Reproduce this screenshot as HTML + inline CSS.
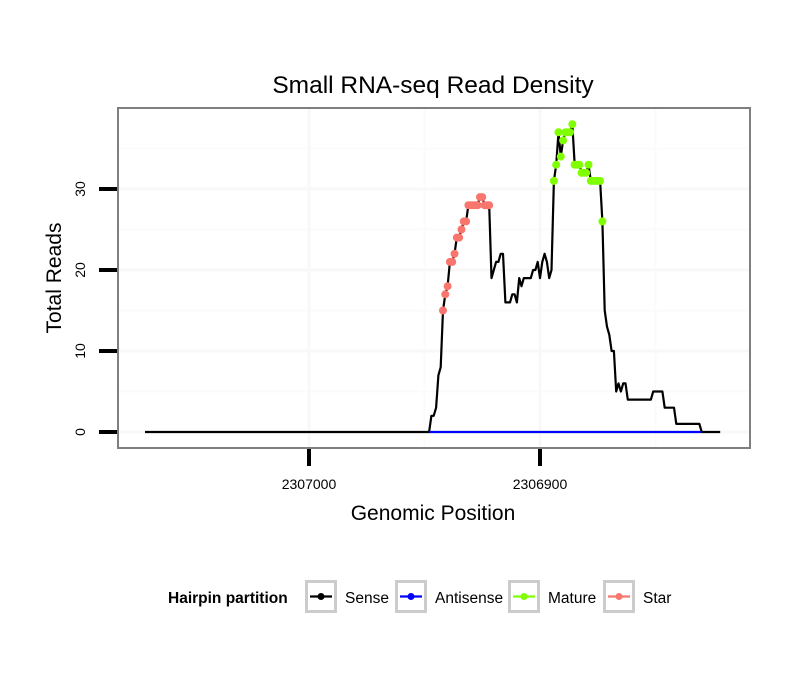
<!DOCTYPE html>
<html><head><meta charset="utf-8"><style>
body{margin:0;background:#fff}
svg{display:block;font-family:"Liberation Sans",Arial,sans-serif}
</style></head><body>
<svg id="chart" width="810" height="690" viewBox="0 0 810 690">
<rect width="810" height="690" fill="#fff"/>
<text x="433" y="93" font-size="24.5" text-anchor="middle">Small RNA-seq Read Density</text>
<g id="grid"></g>
<g id="series"></g>
<rect x="118" y="108" width="632" height="340" fill="none" stroke="#7f7f7f" stroke-width="2"/>
<g id="axes"></g>
<text x="433" y="520" font-size="21" text-anchor="middle">Genomic Position</text>
<text transform="translate(61,278) rotate(-90)" font-size="21" text-anchor="middle">Total Reads</text>
<g>
<text x="168" y="603" font-size="15.5" font-weight="bold">Hairpin partition</text>
<g id="legend-items"></g>
</g>
</svg>
<script>
const firstPos = 2306948;
const senseValues = [0,2,2,3,7,8,15,17,18,21,21,22,24,24,25,26,26,28,28,28,28,28,29,29,28,28,28,19,20,21,21,22,22,16,16,16,17,17,16,19,18,19,19,19,19,20,20,21,19,21,22,21,19,20,31,33,37,34,36,37,37,37,38,33,33,33,32,32,32,33,31,31,31,31,31,26,15,13,12,10,10,5,6,5,6,6,4,4,4,4,4,4,4,4,4,4,4,5,5,5,5,5,3,3,3,3,3,1,1,1,1,1,1,1,1,1,1,1,0];
const leadStartPos = 2307071;
const trailEndPos = 2306822;
const antisenseRange = [2306948, 2306830];
const starRange = [2306942, 2306922];
const matureRange = [2306894, 2306873];
const xTicks = [2307000, 2306900];
const xMinor = [2306950, 2306850];
const yTicks = [0, 10, 20, 30];
const yMinor = [5, 15, 25, 35];
const legendLabels = ["Sense","Antisense","Mature","Star"];
const legendColors = ["#000000","#0000ff","#7fff00","#f8766d"];

const NS = "http://www.w3.org/2000/svg";
const xS = p => 309 + (2307000 - p) * 2.31;
const yS = v => 432 - v * 8.1;
function mk(tag, attrs, parent){const e=document.createElementNS(NS,tag);for(const k in attrs)e.setAttribute(k,attrs[k]);parent.appendChild(e);return e;}
const grid = document.getElementById('grid'), series = document.getElementById('series'), axes = document.getElementById('axes');

yMinor.forEach(v=>{const l=mk('line',{x1:119,x2:749,y1:yS(v),y2:yS(v),stroke:'#fbfbfb','stroke-width':2},grid);

});
xMinor.forEach(p=>{const l=mk('line',{x1:xS(p),x2:xS(p),y1:109,y2:447,stroke:'#fbfbfb','stroke-width':2},grid);

});
yTicks.forEach(v=>{const l=mk('line',{x1:119,x2:749,y1:yS(v),y2:yS(v),stroke:'#f8f8f8','stroke-width':3},grid);


const t=mk('line',{x1:99,x2:117,y1:yS(v),y2:yS(v),stroke:'#000','stroke-width':4},axes);


const tx=mk('text',{transform:`translate(85,${yS(v)}) rotate(-90)`,'font-size':14,'text-anchor':'middle'},axes);tx.textContent=v;

});
xTicks.forEach(p=>{const l=mk('line',{x1:xS(p),x2:xS(p),y1:109,y2:447,stroke:'#f8f8f8','stroke-width':3},grid);


const t=mk('line',{x1:xS(p),x2:xS(p),y1:449,y2:466,stroke:'#000','stroke-width':4},axes);


const tx=mk('text',{x:xS(p),y:489,'font-size':14,'text-anchor':'middle'},axes);tx.textContent=p;

});

const pts=[[leadStartPos,0]];
senseValues.forEach((v,i)=>pts.push([firstPos-i,v]));
pts.push([trailEndPos,0]);
const ln=mk('polyline',{points:pts.map(d=>xS(d[0]).toFixed(1)+','+yS(d[1]).toFixed(1)).join(' '),fill:'none',stroke:'#000','stroke-width':2.2,'stroke-linejoin':'round'},series);


const an=mk('line',{x1:xS(antisenseRange[0]),x2:xS(antisenseRange[1]),y1:yS(0),y2:yS(0),stroke:'#0000ff','stroke-width':2.2},series);


function dots(range,color,name){senseValues.forEach((v,i)=>{const p=firstPos-i;if(p<=range[0]&&p>=range[1]){const c=mk('circle',{cx:xS(p),cy:yS(v),r:4,fill:color},series);

}});}
dots(starRange,'#f8766d','star-point');
dots(matureRange,'#7fff00','mature-point');

const li=document.getElementById('legend-items');
const boxX=[305,395,508,603];
legendLabels.forEach((lab,i)=>{const g=mk('g',{},li);


const x=boxX[i];
mk('rect',{x:x+1.5,y:581.5,width:29,height:30,fill:'#fff',stroke:'#cccccc','stroke-width':3},g);
mk('line',{x1:x+5,x2:x+27,y1:596.5,y2:596.5,stroke:legendColors[i],'stroke-width':2.2},g);
mk('circle',{cx:x+16,cy:596.5,r:3.5,fill:legendColors[i]},g);
const t=mk('text',{x:x+40,y:603,'font-size':15.5},g);t.textContent=lab;});
</script>
</body></html>
